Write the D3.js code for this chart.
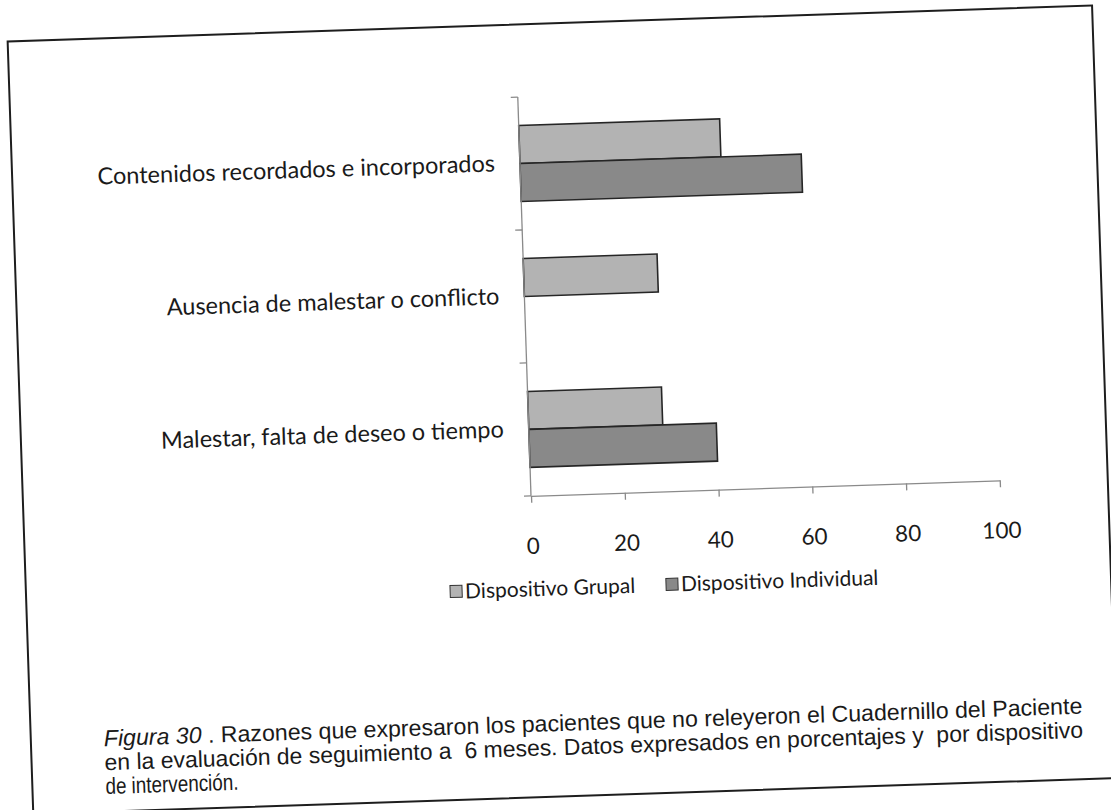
<!DOCTYPE html>
<html>
<head>
<meta charset="utf-8">
<script src="https://cdn.jsdelivr.net/npm/d3@7"></script>
<style>
  html, body { margin: 0; padding: 0; background: #fff; }
  svg { display: block; }
</style>
</head>
<body>
<svg id="fig" width="1111" height="810"></svg>
<script>
// Categories listed from the top of the chart downwards
const categories = [
  "Contenidos recordados e incorporados",
  "Ausencia de malestar o conflicto",
  "Malestar, falta de deseo o tiempo"
];
const seriesNames = ["Dispositivo Grupal", "Dispositivo Individual"];
// Percentages per device (each series sums to 100)
const grupalValues = [42.86, 28.57, 28.57];
const individualValues = [60, 0, 40];
const xTickValues = [0, 20, 40, 60, 80, 100];
const seriesColors = ["#b3b3b3", "#898989"];
const captionItalic = "Figura 30";
const captionLines = [
  " . Razones que expresaron los pacientes que no releyeron el Cuadernillo del Paciente",
  "en la evaluación de seguimiento a  6 meses. Datos expresados en porcentajes y  por dispositivo",
  "de intervención."
];

const seriesValues = [grupalValues, individualValues];
const W = 1111, H = 810;
const svg = d3.select("#fig");
svg.append("rect").attr("width", W).attr("height", H).attr("fill", "#fff");

// The printed page sits slightly tilted
const page = svg.append("g").attr("transform", "rotate(-1.9, 555, 405)");

// page frame
page.append("rect")
  .attr("x", 20).attr("y", 23.5)
  .attr("width", 1085).attr("height", 773)
  .attr("fill", "none").attr("stroke", "#1e1e1e").attr("stroke-width", 2);

const plot = { left: 528, right: 997, top: 96, bottom: 495 };
const labelFont = "Lato, 'Open Sans', sans-serif";

const x = d3.scaleLinear().domain([0, 100]).range([plot.left, plot.right]);
const y = d3.scaleBand().domain(categories).range([plot.top, plot.bottom]).padding(0);
const ySub = d3.scaleBand().domain(seriesNames).range([0, y.bandwidth()])
  .paddingInner(0).paddingOuter(0.75);

// bars
categories.forEach((cat, ci) => {
  seriesNames.forEach((s, si) => {
    const v = seriesValues[si][ci];
    if (v <= 0) return;
    page.append("rect")
      .attr("x", x(0))
      .attr("y", y(cat) + ySub(s))
      .attr("width", x(v) - x(0))
      .attr("height", ySub.bandwidth())
      .attr("fill", seriesColors[si])
      .attr("stroke", "#262626")
      .attr("stroke-width", 1.6);
  });
});

// category axis
const axisColor = "#8a8a8a";
page.append("line")
  .attr("x1", plot.left).attr("x2", plot.left)
  .attr("y1", plot.top).attr("y2", plot.bottom)
  .attr("stroke", axisColor).attr("stroke-width", 1.3);
const catEdges = categories.map(c => y(c)).concat([y(categories[categories.length - 1]) + y.step()]);
catEdges.forEach(e => {
  page.append("line")
    .attr("x1", plot.left - 7).attr("x2", plot.left)
    .attr("y1", e).attr("y2", e)
    .attr("stroke", axisColor).attr("stroke-width", 1.3);
});
categories.forEach(cat => {
  page.append("text")
    .attr("x", plot.left - 25)
    .attr("y", y(cat) + y.bandwidth() / 2)
    .attr("dy", "0.3em")
    .attr("text-anchor", "end")
    .attr("font-family", labelFont)
    .attr("font-size", 23.5)
    .attr("fill", "#1a1a1a")
    .text(cat);
});

// value axis
const xAxis = d3.axisBottom(x).tickValues(xTickValues).tickSize(7).tickPadding(35).tickSizeOuter(0);
const gx = page.append("g")
  .attr("transform", `translate(0,${plot.bottom})`)
  .call(xAxis);
gx.select(".domain").attr("stroke", axisColor).attr("stroke-width", 1.3);
gx.selectAll(".tick line").attr("stroke", axisColor).attr("stroke-width", 1.3);
gx.selectAll(".tick text")
  .attr("font-family", labelFont)
  .attr("font-size", 22.5)
  .attr("fill", "#1a1a1a");

// legend
const legendY = 588;
const legendX = [444, 660];
seriesNames.forEach((s, i) => {
  const g = page.append("g").attr("transform", `translate(${legendX[i]},${legendY})`);
  g.append("rect")
    .attr("x", 0).attr("y", -6).attr("width", 12).attr("height", 12)
    .attr("fill", seriesColors[i]).attr("stroke", "#333").attr("stroke-width", 1);
  g.append("text")
    .attr("x", 15).attr("y", 0).attr("dy", "0.35em")
    .attr("font-family", labelFont)
    .attr("font-size", 21)
    .attr("fill", "#1a1a1a")
    .text(s);
});

// caption: narrow sans, first two lines justified to the same width
const capFont = "'Liberation Sans', Arial, sans-serif";
const capX = 93, capBase = 731, capLead = 24, capWidth = 979, lastLineSqueeze = 0.82;
captionLines.forEach((line, i) => {
  const t = page.append("text")
    .attr("x", capX)
    .attr("y", capBase + i * capLead)
    .attr("font-family", capFont)
    .attr("font-size", 23)
    .attr("fill", "#1a1a1a")
    .style("white-space", "pre");
  if (i === 0) {
    t.append("tspan").attr("font-style", "italic").text(captionItalic);
    t.append("tspan").text(line);
  } else {
    t.text(line);
  }
  const natural = t.node().getComputedTextLength();
  const target = i < 2 ? capWidth : natural * lastLineSqueeze;
  t.attr("textLength", target).attr("lengthAdjust", "spacingAndGlyphs");
});
</script>
</body>
</html>
